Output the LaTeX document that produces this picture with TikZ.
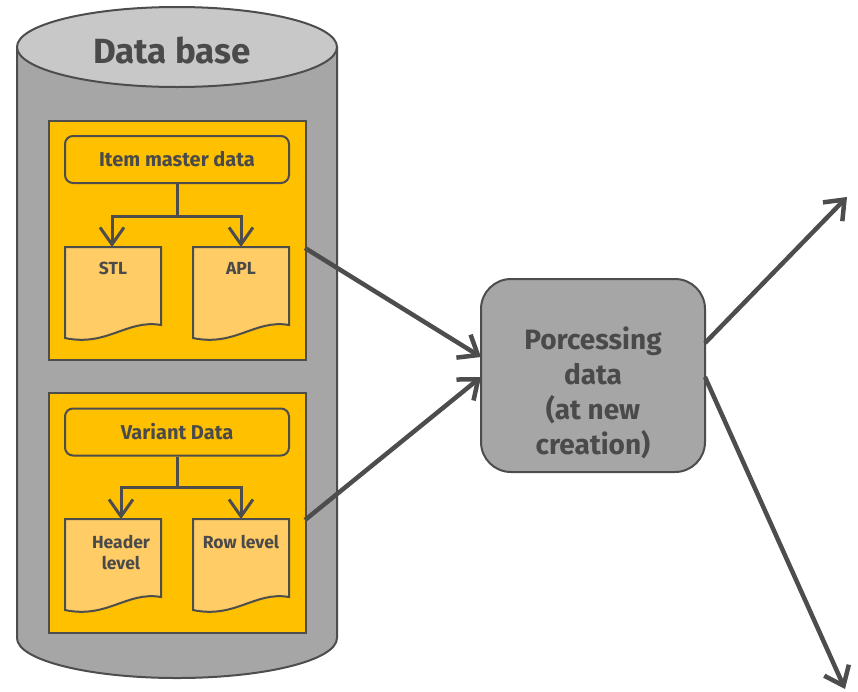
\documentclass[tikz,border=0pt]{standalone}
\usepackage{fontspec}
\setmainfont{Fira Sans}
\usetikzlibrary{arrows.meta}
\definecolor{ln}{HTML}{4D4D4D}
\definecolor{tx}{HTML}{4A4A4A}
\definecolor{gbody}{HTML}{A6A6A6}
\definecolor{gtop}{HTML}{C8C8C8}
\definecolor{org}{HTML}{FFC000}
\definecolor{docf}{HTML}{FFCC66}
\tikzset{
  panel/.style={draw=ln, line width=2pt, fill=org, rectangle, anchor=north west, inner sep=0pt},
  hdr/.style={draw=ln, line width=2pt, rounded corners=8pt, fill=org, minimum width=224pt, minimum height=47pt, inner sep=0pt, font=\bfseries\fontsize{20}{24}\selectfont, text=tx},
  doclbl/.style={font=\bfseries\fontsize{17.5}{21}\selectfont, text=tx, align=center},
  small/.style={draw=ln, line width=3pt, -{Straight Barb[length=17pt,width=24pt,line width=3pt]}},
  big/.style={draw=ln, line width=4.5pt, -{Straight Barb[length=17pt,width=27pt,line width=4.5pt]}},
  proc/.style={draw=ln, line width=2pt, fill=gbody, rounded corners=30pt, minimum width=224pt, minimum height=193pt, inner sep=0pt},
  proclbl/.style={align=center, font=\bfseries\fontsize{28}{35}\selectfont, text=tx},
}
\begin{document}
\begin{tikzpicture}[x=1pt,y=-1pt]
\useasboundingbox (0,0) rectangle (858,691);
% cylinder
\draw[draw=ln, line width=2pt, fill=gbody] (17,47) -- (17,638) arc[start angle=180, end angle=360, x radius=160, y radius=-40] -- (337,47) -- cycle;
\draw[draw=ln, line width=2pt, fill=gtop] (177,47) ellipse[x radius=160, y radius=40];
\node[font=\bfseries\fontsize{35}{38}\selectfont, text=tx] (dbt) at (172,51) {Data base};
% panels
\node[panel, minimum width=257pt, minimum height=239pt] (p1) at (48,120) {};
\node[panel, minimum width=257pt, minimum height=240pt] (p2) at (48,392) {};
% headers
\node[hdr] (imd) at (177,159.5) {Item master data};
\node[hdr] (vd) at (177,432) {Variant Data};
% documents
\foreach \n/\x/\y in {stl/65/247, apl/193/247, hl/65/519, rl/193/519}{
  \draw[draw=ln, line width=2pt, fill=docf]
    (\x,\y) -- (\x+96,\y) -- (\x+96,\y+78)
    .. controls (\x+62,\y+72) and (\x+42,\y+100) .. (\x,\y+91) -- cycle;
  \coordinate (\n) at (\x+48,\y);
}
\node[doclbl] (stlt) at (113,268) {STL};
\node[doclbl] (aplt) at (241,268) {APL};
\node[doclbl] (hlt) at (121,552) {Header\\level};
\node[doclbl] (rlt) at (241,542) {Row level};
% small connectors
\coordinate (j1) at (177,216);
\coordinate (j2) at (177,487);
\coordinate (stla) at (112,247);
\coordinate (apla) at (241,247);
\coordinate (hla) at (121,519);
\coordinate (rla) at (241,519);
\draw[draw=ln, line width=3pt] (imd.south) -- (j1);
\draw[small] (j1) -| (stla);
\draw[small] (j1) -| (apla);
\draw[draw=ln, line width=3pt] (vd.south) -- (j2);
\draw[small] (j2) -| (hla);
\draw[small] (j2) -| (rla);
% processing
\node[proc] (pr) at (593,375.5) {};
\node[proclbl] (prt) at (593,393) {Porcessing\\data\\(at new\\creation)};
\coordinate (o1) at (305,248);
\coordinate (o2) at (305,520);
\coordinate (i1) at (481,357);
\coordinate (i2) at (481,377);
\draw[big] (o1) -- (i1);
\draw[big] (o2) -- (i2);
\coordinate (s1) at (705,343);
\coordinate (s2) at (705,377);
\coordinate (e1) at (847,197);
\coordinate (e2) at (845,689);
\draw[big] (s1) -- (e1);
\draw[big] (s2) -- (e2);
\end{tikzpicture}
\end{document}
